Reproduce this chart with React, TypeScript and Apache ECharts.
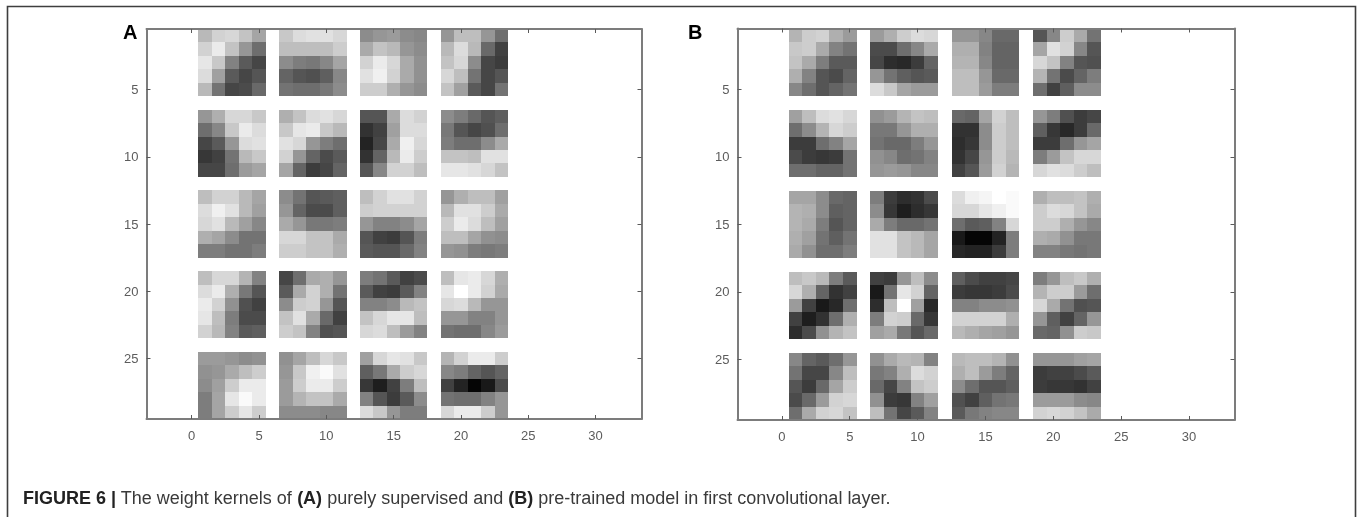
import React, { useEffect, useRef } from "react";
import * as echarts from "echarts";

const tickValues = [0, 5, 10, 15, 20, 25, 30];
const yTickValues = [5, 10, 15, 20, 25];

// Each kernel: 5x5 grey levels (0 = black, 255 = white), row by row.
const kernelsA: number[][] = [
  [185,210,215,195,165, 210,235,195,150,110, 230,200,130,90,70, 220,160,90,70,85, 185,115,70,75,105],
  [200,220,225,225,215, 190,190,190,190,205, 140,125,120,135,165, 100,85,80,95,135, 115,110,110,120,140],
  [140,150,155,140,135, 170,195,185,150,140, 210,235,215,170,145, 225,240,210,170,145, 205,205,175,150,140],
  [150,190,190,150,110, 185,220,185,105,65, 195,215,140,70,60, 215,190,115,70,85, 195,160,90,70,115],
  [150,175,215,215,200, 110,135,200,235,220, 70,90,150,220,225, 55,65,115,185,200, 70,70,110,155,165],
  [175,195,220,225,215, 200,230,235,200,185, 225,215,150,125,110, 210,150,100,75,90, 165,100,60,70,100],
  [85,85,170,220,210, 50,65,160,220,220, 35,70,170,240,215, 50,100,185,235,205, 85,135,210,210,190],
  [140,125,105,85,95, 120,85,70,80,110, 125,110,110,140,170, 195,195,190,225,225, 230,230,225,215,195],
  [190,210,210,185,165, 220,240,225,185,160, 215,225,185,160,135, 175,165,140,115,115, 125,125,115,115,125],
  [140,115,85,90,95, 150,100,75,75,95, 170,150,120,120,125, 215,215,195,195,170, 205,205,195,195,175],
  [190,210,225,225,210, 205,210,210,210,210, 150,130,130,140,165, 85,65,60,85,125, 90,85,85,105,130],
  [150,175,190,190,160, 185,225,225,205,170, 205,235,220,190,160, 190,190,165,145,140, 150,145,125,120,125],
  [190,215,215,180,130, 220,235,175,120,85, 235,210,145,80,65, 230,190,125,75,75, 210,185,130,90,95],
  [70,110,170,175,150, 90,170,210,175,115, 140,205,210,150,85, 195,225,170,105,65, 205,195,130,80,85],
  [125,115,90,65,75, 90,65,60,90,130, 130,130,140,185,195, 195,215,230,230,190, 215,220,190,155,130],
  [190,230,235,215,175, 230,255,235,210,170, 215,220,185,150,150, 150,150,130,130,150, 115,110,110,135,155],
  [155,155,150,140,145, 145,150,170,190,205, 140,160,205,235,235, 125,165,230,250,235, 125,165,205,230,205],
  [145,165,190,215,200, 150,200,240,250,225, 155,205,235,235,205, 155,180,195,195,170, 140,140,140,135,135],
  [160,215,230,225,200, 95,120,170,205,215, 55,30,65,125,190, 130,85,60,90,140, 220,200,150,125,125],
  [180,210,235,235,205, 135,125,100,85,100, 65,35,5,25,75, 115,110,110,130,150, 215,235,235,205,150],
];

const kernelsB: number[][] = [
  [180,205,210,175,155, 200,205,170,130,115, 195,170,125,90,90, 175,130,85,75,100, 135,110,85,100,115],
  [155,175,205,220,215, 75,75,110,135,170, 70,45,40,60,100, 150,115,95,85,90, 220,200,165,155,155],
  [150,150,135,105,105, 175,175,130,100,100, 180,180,135,100,100, 190,190,150,105,105, 190,190,155,125,125],
  [85,135,205,170,115, 165,225,210,135,85, 215,195,130,85,80, 180,115,75,100,125, 110,65,95,140,140],
  [160,190,220,225,215, 110,140,180,215,205, 60,60,110,130,165, 75,60,55,60,115, 110,110,100,100,115],
  [145,155,180,195,190, 120,120,150,175,175, 115,105,105,125,150, 145,135,110,115,130, 150,155,150,135,135],
  [105,100,165,210,190, 50,50,140,205,190, 45,55,140,205,190, 50,70,150,205,185, 65,85,155,210,180],
  [150,125,80,60,70, 95,55,40,60,105, 60,60,110,150,165, 125,155,195,215,215, 215,225,220,205,190],
  [165,165,140,105,100, 180,175,140,95,100, 180,170,125,85,100, 175,160,115,95,115, 170,145,110,110,125],
  [125,60,45,50,75, 140,55,30,45,55, 170,125,105,105,115, 225,225,195,185,165, 225,225,195,185,165],
  [220,240,245,255,250, 215,215,230,240,250, 110,90,95,130,215, 25,5,5,35,125, 40,35,35,60,125],
  [175,190,190,195,175, 205,220,215,195,170, 205,205,175,150,135, 175,170,145,120,120, 130,130,120,115,120],
  [190,200,185,125,90, 215,175,100,50,65, 155,65,25,40,110, 65,30,50,110,175, 45,75,145,180,195],
  [65,60,150,190,140, 25,115,230,210,100, 45,190,255,160,40, 125,210,205,105,55, 160,170,120,85,105],
  [95,75,65,65,70, 60,55,55,60,75, 130,130,140,140,145, 210,210,210,210,175, 185,175,165,160,150],
  [125,150,190,200,175, 180,205,205,155,110, 215,170,115,80,85, 150,95,65,100,150, 105,100,145,205,200],
  [135,100,90,110,150, 115,70,70,135,190, 85,60,105,165,205, 75,105,155,210,215, 110,170,210,215,195],
  [145,170,185,180,130, 120,130,175,220,210, 105,70,130,195,205, 145,60,55,130,160, 190,115,70,90,130],
  [185,190,190,180,145, 175,190,155,125,100, 140,110,85,85,95, 80,65,95,115,120, 90,120,130,135,135],
  [150,150,150,160,165, 60,65,65,75,90, 60,55,55,50,65, 155,155,155,140,135, 210,215,210,195,170],
];

const captionParts = [
  { text: "FIGURE 6 |", style: "b" },
  { text: " The weight kernels of ", style: "r" },
  { text: "(A)", style: "b" },
  { text: " purely supervised and ", style: "r" },
  { text: "(B)", style: "b" },
  { text: " pre-trained model in first convolutional layer.", style: "r" },
];

const COLS = 4;

function toCells(kernels: number[][]) {
  const out: number[][] = [];
  kernels.forEach((k, idx) => {
    const col = idx % COLS;
    const row = Math.floor(idx / COLS);
    k.forEach((g, i) => {
      out.push([1 + 6 * col + (i % 5), 1 + 6 * row + Math.floor(i / 5), g]);
    });
  });
  return out;
}

const renderCell = (_: any, api: any) => {
  const x = api.value(0);
  const y = api.value(1);
  const g = api.value(2);
  const a = api.coord([x - 0.5, y - 0.5]);
  const b = api.coord([x + 0.5, y + 0.5]);
  const x0 = Math.round(a[0]);
  const y0 = Math.round(a[1]);
  return {
    type: "rect",
    shape: { x: x0, y: y0, width: Math.round(b[0]) - x0, height: Math.round(b[1]) - y0 },
    style: { fill: `rgb(${g},${g},${g})`, stroke: null },
  };
};

const FRAME = "#7c7c7c";
const TICK = "#5a5a5a";
const LABEL = "#5c5c5c";
const FONT = "'Liberation Sans', Arial, sans-serif";

function xAxisPair(gridIndex: number, min: number, max: number) {
  const base = {
    type: "value",
    gridIndex,
    min,
    max,
    z: 5,
    splitLine: { show: false },
    axisLine: { show: true, onZero: false, lineStyle: { color: FRAME, width: 2 } },
    axisTick: { show: true, inside: true, length: 4, lineStyle: { color: TICK, width: 1 }, customValues: tickValues },
  };
  return [
    {
      ...base,
      position: "bottom",
      axisLabel: { show: true, customValues: tickValues, color: LABEL, fontSize: 13, fontFamily: FONT, margin: 10 },
    },
    { ...base, position: "top", axisLabel: { show: false } },
  ];
}

function yAxisPair(gridIndex: number) {
  const base = {
    type: "value",
    gridIndex,
    min: 0.5,
    max: 29.5,
    inverse: true,
    z: 5,
    splitLine: { show: false },
    axisLine: { show: true, onZero: false, lineStyle: { color: FRAME, width: 2 } },
    axisTick: { show: true, inside: true, length: 4, lineStyle: { color: TICK, width: 1 }, customValues: yTickValues },
  };
  return [
    {
      ...base,
      position: "left",
      axisLabel: { show: true, customValues: yTickValues, color: LABEL, fontSize: 13, fontFamily: FONT, margin: 8 },
    },
    { ...base, position: "right", axisLabel: { show: false } },
  ];
}

export default function App() {
  const ref = useRef<HTMLDivElement>(null);
  useEffect(() => {
    const chart = echarts.init(ref.current!, null, { renderer: "svg" });
    const rich: any = {
      b: { fontFamily: FONT, fontSize: 18, fontWeight: "bold", fill: "#222222", color: "#222222" },
      r: { fontFamily: FONT, fontSize: 18, fontWeight: "normal", fill: "#3a3a3a", color: "#3a3a3a" },
    };
    chart.setOption({
      animation: false,
      backgroundColor: "#ffffff",
      grid: [
        { left: 146.5, top: 29, width: 495, height: 390, containLabel: false },
        { left: 737.5, top: 28.5, width: 497, height: 391.5, containLabel: false },
      ],
      xAxis: [...xAxisPair(0, -3.356, 33.41), ...xAxisPair(1, -3.27, 33.35)],
      yAxis: [...yAxisPair(0), ...yAxisPair(1)],
      series: [
        {
          type: "custom",
          name: "A",
          coordinateSystem: "cartesian2d",
          xAxisIndex: 0,
          yAxisIndex: 0,
          encode: { x: 0, y: 1 },
          renderItem: renderCell,
          data: toCells(kernelsA),
          silent: true,
        },
        {
          type: "custom",
          name: "B",
          coordinateSystem: "cartesian2d",
          xAxisIndex: 2,
          yAxisIndex: 2,
          encode: { x: 0, y: 1 },
          renderItem: renderCell,
          data: toCells(kernelsB),
          silent: true,
        },
      ],
      graphic: [
        {
          type: "polyline",
          silent: true,
          shape: { points: [[7.5, 517], [7.5, 6.5], [1355.5, 6.5], [1355.5, 517]] },
          style: { stroke: "#3e3e3e", lineWidth: 1.6, fill: "none" },
        },
        {
          type: "text",
          x: 123,
          y: 22,
          style: { text: "A", fontFamily: FONT, fontSize: 20, fontWeight: "bold", fill: "#000000" },
        },
        {
          type: "text",
          x: 688,
          y: 22,
          style: { text: "B", fontFamily: FONT, fontSize: 20, fontWeight: "bold", fill: "#000000" },
        },
        {
          type: "text",
          x: 23,
          y: 489,
          style: {
            text: captionParts.map((p) => `{${p.style}|${p.text}}`).join(""),
            rich,
            fontFamily: FONT,
            fontSize: 18,
          },
        },
      ],
    });
    return () => chart.dispose();
  }, []);
  return (
    <div
      ref={ref}
      style={{ position: "absolute", left: 0, top: 0, width: 1357, height: 517, filter: "blur(0.5px)" }}
    />
  );
}
